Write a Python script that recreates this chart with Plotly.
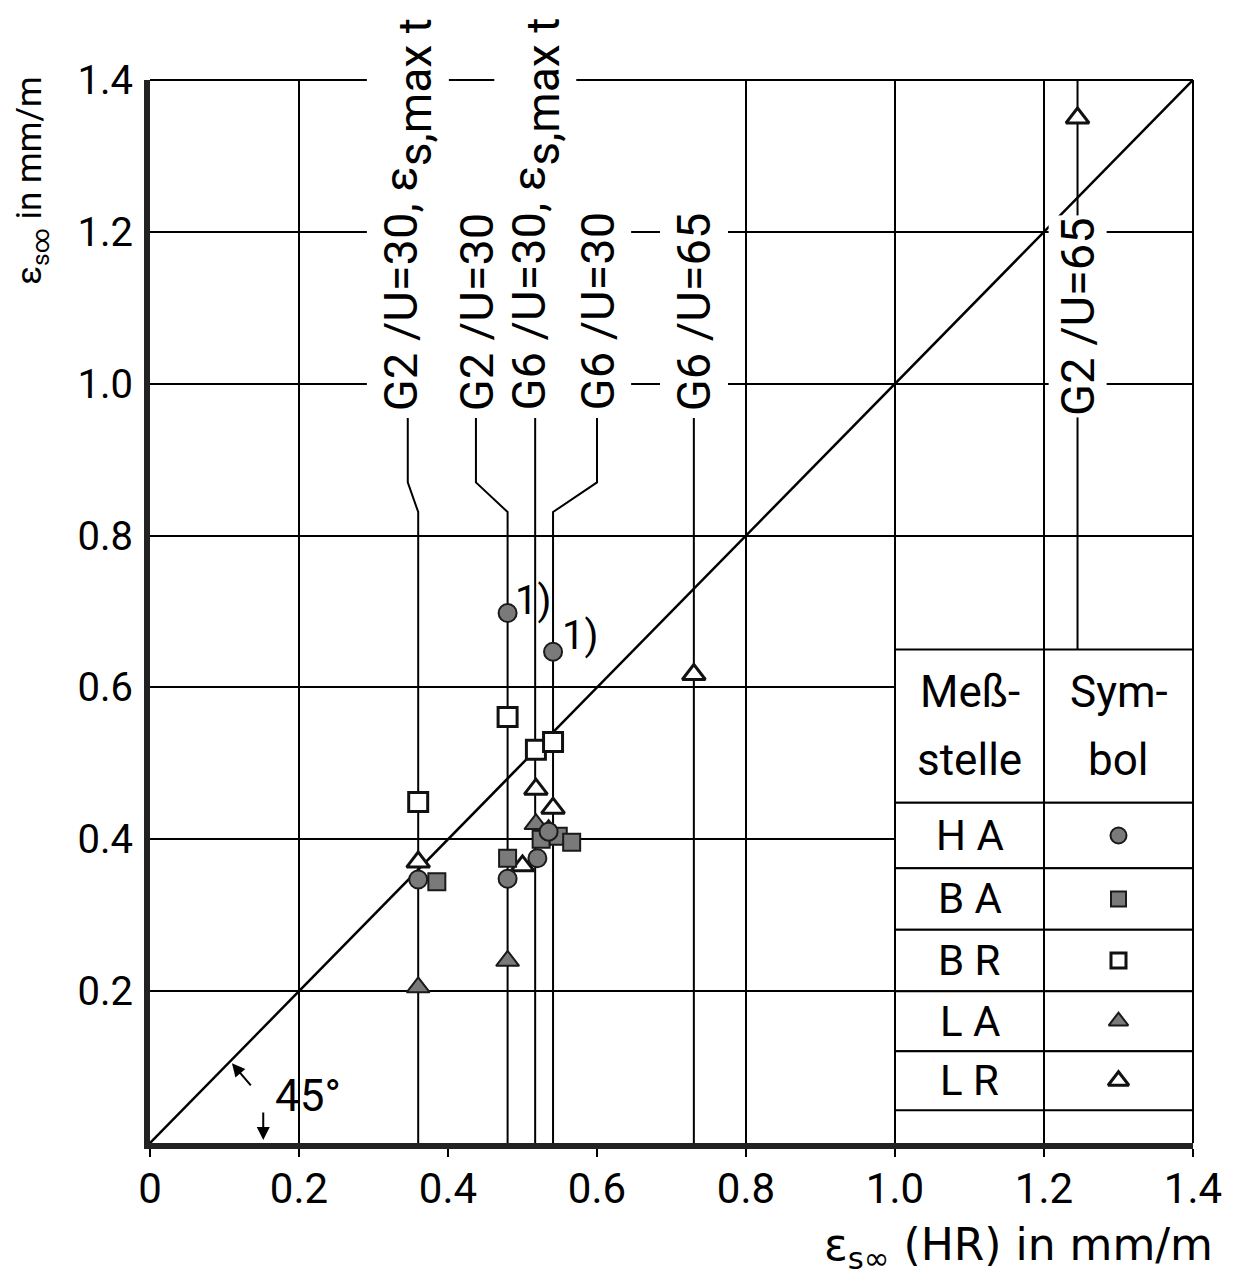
import plotly.graph_objects as go

# ---------------- data ----------------
HA_x = [0.36, 0.48, 0.48, 0.541, 0.52, 0.535]
HA_y = [0.347, 0.698, 0.348, 0.647, 0.375, 0.41]
BA_x = [0.385, 0.48, 0.525, 0.548, 0.566]
BA_y = [0.344, 0.375, 0.40, 0.404, 0.396]
BR_x = [0.36, 0.48, 0.518, 0.541]
BR_y = [0.449, 0.561, 0.518, 0.528]
LA_x = [0.36, 0.48, 0.518, 0.535]
LA_y = [0.205, 0.24, 0.42, 0.412]
LR_x = [0.36, 0.50, 0.518, 0.541, 0.73, 1.245]
LR_y = [0.37, 0.365, 0.466, 0.441, 0.617, 1.35]

label_text = ["G2 /U=30, ε<span style='font-size:66px'><sub>s,max t</sub></span>",
              "G2 /U=30",
              "G6 /U=30, ε<span style='font-size:66px'><sub>s,max t</sub></span>",
              "G6 /U=30", "G6 /U=65", "G2 /U=65"]
label_x = [0.346, 0.4375, 0.517, 0.6, 0.73, 1.245]   # x of leader at the label
line_x = [0.36, 0.48, 0.517, 0.541, 0.73, 1.245]     # x of the test series
label_pad = [6, 6, 6, 6, 6, 1]
label_base = 0.955
kink_top, kink_bot = 0.87, 0.831

tick_vals = [0, 0.2, 0.4, 0.6, 0.8, 1.0, 1.2, 1.4]
tick_text = ["0", "0.2", "0.4", "0.6", "0.8", "1.0", "1.2", "1.4"]
xgrid_vals = [0.2, 0.8, 1.0, 1.2]

table_names = ["HA", "BA", "BR", "LA", "LR"]
table_rows = [0.65, 0.448, 0.362, 0.281, 0.2, 0.121, 0.043]
table_cols = [1.0, 1.2, 1.4]

FONT = "Roboto"
fig = go.Figure()

# diagonal 45° line
fig.add_trace(go.Scatter(x=[0, 1.4], y=[0, 1.4], mode="lines",
                         line=dict(color="black", width=2.5), hoverinfo="skip"))

# leader / series lines
for i, (lx, sx) in enumerate(zip(label_x, line_x)):
    if i == 5:
        xs, ys = [lx, sx], [1.4, table_rows[0]]
    elif lx == sx:
        xs, ys = [lx, sx], [label_base, 0]
    else:
        xs, ys = [lx, lx, sx, sx], [label_base, kink_top, kink_bot, 0]
    fig.add_trace(go.Scatter(x=xs, y=ys, mode="lines",
                             line=dict(color="black", width=2), hoverinfo="skip"))

filled = dict(color="#7a7a7a", line=dict(color="#1a1a1a", width=2))
hollow = dict(color="white", line=dict(color="#111", width=3))

def mk(sym, size, style):
    d = dict(symbol=sym, size=size)
    d.update(style)
    return d

fig.add_trace(go.Scatter(x=BR_x, y=BR_y, mode="markers", marker=mk("square", 19, hollow)))
fig.add_trace(go.Scatter(x=LR_x, y=LR_y, mode="markers", marker=mk("triangle-up", 20, hollow)))
fig.add_trace(go.Scatter(x=LA_x, y=LA_y, mode="markers", marker=mk("triangle-up", 20, filled)))
fig.add_trace(go.Scatter(x=BA_x, y=BA_y, mode="markers", marker=mk("square", 17, filled)))
fig.add_trace(go.Scatter(x=HA_x, y=HA_y, mode="markers", marker=mk("circle", 18, filled)))

# ---------------- table (legend) ----------------
shapes = []
for r in range(len(table_rows) - 1):
    for c in range(len(table_cols) - 1):
        shapes.append(dict(type="rect", xref="x", yref="y",
                           x0=table_cols[c], x1=table_cols[c + 1],
                           y0=table_rows[r + 1], y1=table_rows[r],
                           fillcolor="white", line=dict(color="black", width=2),
                           layer="between"))
# top and right frame
shapes.append(dict(type="line", xref="paper", yref="paper", x0=0, x1=1, y0=1, y1=1,
                   line=dict(color="black", width=2), layer="between"))
shapes.append(dict(type="line", xref="paper", yref="paper", x0=1, x1=1, y0=0, y1=1,
                   line=dict(color="black", width=2), layer="between"))

sym_x = (table_cols[1] + table_cols[2]) / 2
txt_x = (table_cols[0] + table_cols[1]) / 2
row_c = [(table_rows[i + 1] + table_rows[i + 2]) / 2 for i in range(5)]
styles = [mk("circle", 16, filled), mk("square", 15, filled), mk("square", 15, hollow),
          mk("triangle-up", 17, filled), mk("triangle-up", 18, hollow)]
for yc, st in zip(row_c, styles):
    fig.add_trace(go.Scatter(x=[sym_x], y=[yc], mode="markers", marker=st))

ann = []
head_top = table_rows[0] - (table_rows[0] - table_rows[1]) * 0.28
head_bot = table_rows[0] - (table_rows[0] - table_rows[1]) * 0.72
for t, xx, yy in [("Meß-", txt_x, head_top), ("stelle", txt_x, head_bot),
                  ("Sym-", sym_x, head_top), ("bol", sym_x, head_bot)]:
    ann.append(dict(x=xx, y=yy, xref="x", yref="y", text=t, showarrow=False,
                    font=dict(family=FONT, size=44, color="black")))
for name, yc in zip(table_names, row_c):
    ann.append(dict(x=txt_x, y=yc, xref="x", yref="y", text=" ".join(name), showarrow=False,
                    font=dict(family=FONT, size=42, color="black")))

# ---------------- vertical labels ----------------
for t, lx, pad in zip(label_text, label_x, label_pad):
    ann.append(dict(x=lx, y=label_base, xref="x", yref="y", text=t, showarrow=False,
                    textangle=-90, xanchor="center", yanchor="bottom",
                    bgcolor="white", borderpad=pad,
                    font=dict(family=FONT, size=47, color="black")))

# footnote marks
ann.append(dict(x=0.514, y=0.715, xref="x", yref="y", text="1)", showarrow=False,
                font=dict(family=FONT, size=40, color="black")))
ann.append(dict(x=0.577, y=0.669, xref="x", yref="y", text="1)", showarrow=False,
                font=dict(family=FONT, size=40, color="black")))

# 45° annotation and arrows
ann.append(dict(x=0.165, y=0.062, xref="x", yref="y", text="45°", showarrow=False,
                xanchor="left", font=dict(family=FONT, size=44, color="black")))
ann.append(dict(x=0.11, y=0.105, ax=0.137, ay=0.074, xref="x", yref="y",
                axref="x", ayref="y", text="", showarrow=True, arrowhead=2,
                arrowsize=1.3, arrowwidth=2, arrowcolor="black"))
ann.append(dict(x=0.152, y=0.004, ax=0.152, ay=0.042, xref="x", yref="y",
                axref="x", ayref="y", text="", showarrow=True, arrowhead=2,
                arrowsize=1.3, arrowwidth=2, arrowcolor="black"))

# axis titles
ann.append(dict(x=-0.113, y=1.005, xref="paper", yref="paper",
                text="ε<sub>s∞</sub> in mm/m", showarrow=False, textangle=-90,
                xanchor="center", yanchor="top",
                font=dict(family=FONT, size=35, color="black")))
ann.append(dict(x=1.021, y=-0.098, xref="paper", yref="paper",
                text="ε<sub>s∞</sub> (HR) in mm/m", showarrow=False,
                xanchor="right", yanchor="middle",
                font=dict(family="DejaVu Sans", size=44, color="black")))

fig.update_layout(
    width=1237, height=1278,
    margin=dict(l=150, r=44, t=80, b=135),
    paper_bgcolor="white", plot_bgcolor="white",
    showlegend=False, shapes=shapes, annotations=ann,
    font=dict(family=FONT, color="black"),
)
fig.update_xaxes(range=[0, 1.4], tickvals=tick_vals, ticktext=tick_text,
                 showgrid=False,
                 minor=dict(tickvals=xgrid_vals, showgrid=True, gridcolor="black",
                            gridwidth=1.5, ticks=""),
                 showline=True, linecolor="#222", linewidth=6,
                 ticks="outside", ticklen=8, tickwidth=2, tickcolor="black",
                 tickfont=dict(family=FONT, size=42, color="black"),
                 zeroline=False, ticklabelstandoff=-4)
fig.update_yaxes(range=[0, 1.4], tickvals=tick_vals[1:], ticktext=tick_text[1:],
                 showgrid=True, gridcolor="black", gridwidth=1.5,
                 showline=True, linecolor="#222", linewidth=6,
                 ticks="", tickfont=dict(family=FONT, size=40, color="black"),
                 zeroline=False, ticklabelstandoff=3)

fig.write_html("out.html")
